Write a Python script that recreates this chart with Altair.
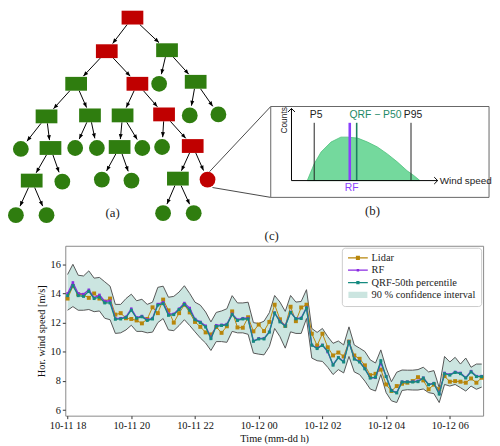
import math
import altair as alt
import pandas as pd

# ---------------- time series (panel c) ----------------
lidar = [13.65, 14.5, 13.95, 13.9, 13.7, 14.0, 13.65, 13.45, 13.65, 12.55,
         12.65, 12.3, 12.25, 12.15, 11.95, 12.25, 13.05, 12.65, 13.58, 12.84,
         12.0, 12.65, 13.22, 12.7, 12.05, 11.71, 11.33, 11.19, 11.7, 11.3,
         11.75, 12.77, 11.67, 11.65, 12.37, 11.4, 11.87, 11.42, 12.05, 13.23,
         12.23, 11.78, 13.09, 12.1, 13.04, 13.23, 11.24, 10.43, 11.24, 10.31,
         9.75, 9.95, 9.68, 10.7, 9.75, 9.52, 9.07, 8.4, 8.49, 8.78,
         7.76, 7.31, 7.65, 7.81, 7.88, 7.99, 8.26, 8.04, 7.43, 7.75,
         7.43, 8.33, 7.95, 7.99, 7.95, 7.88, 8.17, 7.88, 8.22]
rf = [14.0, 14.75, 14.0, 13.95, 14.25, 13.7, 13.9, 13.45, 13.5, 12.28,
      12.3, 12.4, 12.95, 12.35, 12.45, 12.2, 12.3, 13.27, 13.4, 12.6,
      12.6, 12.95, 13.34, 13.0, 12.25, 12.05, 11.78, 10.95, 11.82, 11.85,
      11.9, 12.6, 12.2, 12.3, 12.3, 10.74, 10.92, 10.92, 11.37, 12.68,
      12.1, 11.78, 12.73, 12.28, 12.32, 13.04, 10.47, 10.25, 10.47, 9.98,
      9.12, 9.61, 9.34, 10.7, 9.52, 9.34, 8.85, 8.21, 8.22, 9.23,
      8.33, 7.36, 7.2, 7.95, 7.95, 7.95, 8.0, 8.22, 7.76, 7.85,
      7.13, 8.55, 8.44, 8.62, 8.55, 8.22, 8.67, 8.33, 8.33]
qrf = [13.85, 14.55, 13.85, 13.8, 14.15, 13.65, 13.75, 13.35, 13.35, 12.23,
       12.25, 12.35, 12.85, 12.3, 12.4, 12.15, 12.25, 13.2, 13.3, 12.5,
       12.55, 12.9, 13.25, 12.85, 12.2, 12.0, 11.7, 10.9, 11.75, 11.8,
       11.85, 12.55, 12.15, 12.25, 12.25, 10.72, 10.88, 10.88, 11.35, 12.66,
       12.05, 11.75, 12.7, 12.26, 12.28, 13.0, 10.45, 10.22, 10.45, 10.05,
       9.08, 9.6, 9.3, 10.68, 9.5, 9.3, 8.83, 8.2, 8.26, 9.39,
       8.3, 7.33, 7.18, 7.93, 7.93, 7.93, 7.95, 8.2, 7.74, 7.83,
       7.1, 8.5, 8.4, 8.58, 8.5, 8.2, 8.62, 8.3, 8.3]
upper = [15.3, 16.0, 15.25, 15.2, 15.55, 15.05, 15.1, 14.8, 14.5, 13.25,
         13.25, 13.65, 13.95, 13.5, 13.6, 13.25, 13.4, 14.42, 14.5, 13.74,
         13.8, 14.1, 14.53, 14.0, 13.4, 13.2, 12.73, 12.05, 12.7, 12.8,
         12.95, 13.85, 13.35, 13.35, 13.4, 12.0, 11.94, 12.1, 12.68, 13.86,
         13.41, 12.77, 13.86, 13.41, 13.45, 14.26, 11.6, 11.33, 11.6, 11.04,
         10.58, 10.74, 10.47, 11.71, 10.47, 10.25, 10.02, 9.45, 9.23, 10.13,
         8.89, 7.95, 8.6, 8.75, 8.74, 8.74, 8.78, 8.94, 8.62, 8.71,
         7.54, 9.68, 9.3, 9.62, 9.16, 9.57, 8.94, 9.16, 9.16]
lower = [12.85, 13.1, 12.85, 12.85, 12.9, 12.75, 12.8, 12.3, 12.2, 11.26,
         11.3, 11.5, 11.82, 11.4, 11.4, 11.3, 11.35, 12.0, 12.28, 11.5,
         11.45, 11.8, 12.2, 11.8, 11.37, 10.95, 10.6, 10.09, 10.7, 10.7,
         10.65, 11.4, 11.3, 11.3, 11.2, 9.91, 9.84, 9.79, 10.36, 11.6,
         11.04, 10.25, 11.37, 11.26, 11.26, 12.28, 9.57, 9.39, 9.34, 8.94,
         8.44, 8.78, 8.55, 9.68, 8.62, 8.44, 7.99, 7.45, 7.31, 8.44,
         7.2, 6.64, 6.52, 7.35, 7.4, 7.38, 7.38, 7.45, 7.2, 7.13,
         6.52, 7.76, 7.65, 7.76, 7.54, 7.31, 7.65, 7.43, 7.58]
times = pd.date_range("2019-10-11 18:00", periods=len(lidar), freq="10min")

legend_labels = ["Lidar", "RF", "QRF-50th percentile", "90 % confidence interval"]
legend_colors = ["#b8860b", "#8a2be2", "#148a80", "#cbe5e0"]

# ---------------- tree diagram (panel a) ----------------
node_x = [132, 106, 167, 75, 137, 159, 196, 45, 89, 122, 164, 190, 219, 19, 49, 74, 96,
          119, 142, 162, 193, 30, 61, 101, 131, 178, 208, 14, 45, 163, 194]
node_y = [12, 46, 45, 79, 79, 79, 77, 112, 111, 111, 110, 111, 110, 145, 144, 144, 144,
          143, 144, 143, 142, 177, 178, 176, 177, 175, 176, 212, 212, 210, 210]
node_kind = ["rect", "rect", "rect", "rect", "rect", "circle", "rect", "rect", "rect",
             "rect", "rect", "circle", "circle", "circle", "rect", "circle", "circle",
             "rect", "circle", "circle", "rect", "rect", "circle", "circle", "circle",
             "rect", "circle", "circle", "circle", "circle", "circle"]
node_split = ["red", "red", "green", "green", "red", "green", "green", "green", "green",
              "green", "red", "green", "green", "green", "green", "green", "green",
              "green", "green", "green", "red", "green", "green", "green", "green",
              "green", "red", "green", "green", "green", "green"]
edge_from = [0, 0, 1, 1, 2, 2, 3, 3, 4, 4, 6, 6, 7, 7, 8, 8, 9, 9, 10, 10,
             14, 14, 17, 17, 20, 20, 21, 21, 25, 25]
edge_to = [1, 2, 3, 4, 5, 6, 7, 8, 9, 10, 11, 12, 13, 14, 15, 16, 17, 18, 19, 20,
           21, 22, 23, 24, 25, 26, 27, 28, 29, 30]

# ---------------- distribution sketch (panel b) ----------------
dist_x = [309, 316, 323, 333, 343, 350, 360, 370, 380, 390, 400, 410, 417, 423]
dist_y = [177, 160, 148, 138, 133, 133, 134, 138, 143, 150, 158, 167, 172, 177]
dist_base = 177
pct_line_x = [316, 414]       # P5, P95
rf_line_x = [352]
qrf_line_x = [359]
line_top = 118.5

RED, GREEN = "#c00000", "#2f7d0f"
HW, HH, R = 11, 7, 9

# ---- build tables ----
nodes = pd.DataFrame({"x": node_x, "y": node_y, "kind": node_kind, "split": node_split})
nodes["x1"], nodes["x2"] = nodes.x - HW, nodes.x + HW
nodes["y1"], nodes["y2"] = nodes.y - HH, nodes.y + HH

rows = []
for p, c in zip(edge_from, edge_to):
    px, py, cx, cy = node_x[p], node_y[p], node_x[c], node_y[c]
    dx, dy = cx - px, cy - py
    d = math.hypot(dx, dy)
    ts = min(HW / abs(dx) if dx else 9e9, HH / abs(dy))
    if node_kind[c] == "rect":
        te = min(HW / abs(dx) if dx else 9e9, HH / abs(dy))
    else:
        te = R / d
    ux, uy = dx / d, dy / d
    ex, ey = cx - te * dx - 1.0 * ux, cy - te * dy - 1.0 * uy
    ang = (math.degrees(math.atan2(dx, -dy)) + 360) % 360
    rows.append({"x1": px + ts * dx, "y1": py + ts * dy, "x2": ex, "y2": ey, "ang": ang})
edges = pd.DataFrame(rows)

xs = alt.Scale(domain=[64, 487], nice=False, zero=False)
ys = alt.Scale(domain=[5, 238], nice=False, zero=False, reverse=True)


def X(f):
    return alt.X(f"{f}:Q", scale=xs, axis=None)


def Y(f):
    return alt.Y(f"{f}:Q", scale=ys, axis=None)


conn = alt.Chart(pd.DataFrame({"x1": [210, 213], "y1": [168, 184],
                               "x2": [272, 272], "y2": [102, 194]})).mark_rule(
    color="#333", strokeWidth=0.9).encode(x=X("x1"), y=Y("y1"), x2="x2", y2="y2")

box = alt.Chart(pd.DataFrame({"x1": [272], "x2": [493], "y1": [102], "y2": [194]})).mark_rect(
    fill="white", stroke="#666", strokeWidth=1).encode(x=X("x1"), x2="x2", y=Y("y1"), y2="y2")

dist = alt.Chart(pd.DataFrame({"x": dist_x, "y": dist_y, "base": [dist_base] * len(dist_x)})).mark_area(
    color="#74d99d", stroke="#4dbf7b", strokeWidth=0.8, opacity=1).encode(
    x=X("x"), y=Y("y"), y2="base")


def vrule(xv, color, w):
    df = pd.DataFrame({"x": xv, "y1": [line_top] * len(xv), "y2": [dist_base] * len(xv)})
    return alt.Chart(df).mark_rule(color=color, strokeWidth=w).encode(x=X("x"), y=Y("y1"), y2="y2")


v_pct = vrule(pct_line_x, "#222", 1)
v_rf = vrule(rf_line_x, "#8a3ffc", 2.6)
v_qrf = vrule(qrf_line_x, "#1e7f5f", 1.6)

axes_b = alt.Chart(pd.DataFrame({"x1": [293, 293], "y1": [177, 177],
                                 "x2": [293, 441], "y2": [104, 177]})).mark_rule(
    color="black", strokeWidth=1).encode(x=X("x1"), y=Y("y1"), x2="x2", y2="y2")
chev = alt.Chart(pd.DataFrame({"x": [293, 441], "y": [104, 177], "ang": [0, 90]})).mark_point(
    shape="M-1,1L0,0L1,1", filled=False, color="black", strokeWidth=1, size=49, opacity=1).encode(
    x=X("x"), y=Y("y"), angle=alt.Angle("ang:Q", scale=None))

edge_lines = alt.Chart(edges).mark_rule(color="black", strokeWidth=1).encode(
    x=X("x1"), y=Y("y1"), x2="x2", y2="y2")
heads = alt.Chart(edges).mark_point(
    shape="M0,0L-1,2.5L1,2.5Z", filled=True, color="black", size=16, opacity=1).encode(
    x=X("x2"), y=Y("y2"), angle=alt.Angle("ang:Q", scale=None))


def rects(split, color):
    df = nodes[(nodes.kind == "rect") & (nodes.split == split)]
    return alt.Chart(df).mark_rect(color=color).encode(x=X("x1"), x2="x2", y=Y("y1"), y2="y2")


def circs(split, color):
    df = nodes[(nodes.kind == "circle") & (nodes.split == split)]
    return alt.Chart(df).mark_circle(size=255, opacity=1, color=color).encode(x=X("x"), y=Y("y"))


def label(xv, yv, t, color, size=10.5, font="Liberation Sans", align="center", angle=0):
    df = pd.DataFrame({"x": xv, "y": yv, "t": t})
    return alt.Chart(df).mark_text(font=font, fontSize=size, align=align, baseline="middle",
                                   color=color, angle=angle).encode(x=X("x"), y=Y("y"), text="t:N")


lab_p = label([318, 416], [111, 111], ["P5", "P95"], "#222")
lab_q = label([378], [111], ["QRF \u2212 P50"], "#1e8a68")
lab_r = label([354], [185], ["RF"], "#8a3ffc")
wind = label([443], [177], ["Wind speed"], "#222", size=10, align="left")
counts = label([285], [116], ["Counts"], "#222", size=8.5, angle=270)
panel_txt = label([112, 375, 273], [210, 208, 233], ["(a)", "(b)", "(c)"], "#222",
                  size=13, font="Liberation Serif")

top = alt.layer(conn, box, dist, v_pct, v_rf, v_qrf, axes_b, chev, edge_lines, heads,
                rects("red", RED), rects("green", GREEN), circs("red", RED), circs("green", GREEN),
                lab_p, lab_q, lab_r, wind, counts, panel_txt).properties(
    width=423, height=233, view=alt.ViewBackground(stroke=None))

# ---------------- bottom chart ----------------
ts_df = pd.DataFrame({"time": times, "lidar": lidar, "rf": rf, "qrf": qrf,
                      "upper": upper, "lower": lower})

tick_vals = [alt.DateTime(year=2019, month=10, date=11, hours=18),
             alt.DateTime(year=2019, month=10, date=11, hours=20),
             alt.DateTime(year=2019, month=10, date=11, hours=22),
             alt.DateTime(year=2019, month=10, date=12, hours=0),
             alt.DateTime(year=2019, month=10, date=12, hours=2),
             alt.DateTime(year=2019, month=10, date=12, hours=4),
             alt.DateTime(year=2019, month=10, date=12, hours=6)]
xscale = alt.Scale(domain=[alt.DateTime(year=2019, month=10, date=11, hours=17, minutes=55, seconds=40),
                           alt.DateTime(year=2019, month=10, date=12, hours=7, minutes=2, seconds=40)])
xaxis = alt.Axis(title="Time (mm-dd h)", format="%m-%d %H", values=tick_vals, grid=False,
                 domain=False, tickSize=3, labelPadding=2, titlePadding=3)
yscale = alt.Scale(domain=[5.62, 17.27], nice=False, zero=False)
yaxis = alt.Axis(title="Hor. wind speed [m/s]", values=[6, 8, 10, 12, 14, 16], grid=False,
                 domain=False, tickSize=3, labelPadding=2, titlePadding=4)

XT = alt.X("time:T", scale=xscale, axis=xaxis)


def YT(f):
    return alt.Y(f"{f}:Q", scale=yscale, axis=yaxis)


base = alt.Chart(ts_df)
band = base.mark_area(color="#cbe5e0", opacity=1).encode(x=XT, y=YT("lower"), y2="upper")
band_up = base.mark_line(color="#555", strokeWidth=1).encode(x=XT, y=YT("upper"))
band_lo = base.mark_line(color="#555", strokeWidth=1).encode(x=XT, y=YT("lower"))
l_line = base.mark_line(color=legend_colors[0], strokeWidth=1).encode(x=XT, y=YT("lidar"))
l_pts = base.mark_square(color=legend_colors[0], size=16, opacity=1).encode(x=XT, y=YT("lidar"))
r_line = base.mark_line(color=legend_colors[1], strokeWidth=1.3).encode(x=XT, y=YT("rf"))
r_pts = base.mark_square(color=legend_colors[1], size=7, opacity=1).encode(x=XT, y=YT("rf"))
q_line = base.mark_line(color=legend_colors[2], strokeWidth=1.3).encode(x=XT, y=YT("qrf"))
q_pts = base.mark_square(color=legend_colors[2], size=9, opacity=1).encode(x=XT, y=YT("qrf"))

# legend glyphs: sample line with marker, and a filled patch (drawn as stacked strokes)
ci_path = "".join(f"M-2.4,{v:.3f}H2.4" for v in [-0.625, -0.375, -0.125, 0.125, 0.375, 0.625])
paths = ["M-2.5,0H2.5M-0.35,-0.35H0.35V0.35H-0.35Z",
         "M-2.5,0H2.5M-0.15,-0.15H0.15V0.15H-0.15Z",
         "M-2.5,0H2.5M-0.25,-0.25H0.25V0.25H-0.25Z",
         ci_path]
leg = alt.Legend(title=None, orient="top-right", offset=2, fillColor="white",
                 strokeColor="#cccccc", cornerRadius=3, padding=5,
                 labelFont="Liberation Serif", labelFontSize=10.5, labelColor="#222",
                 symbolSize=64, symbolStrokeWidth=1.3, rowPadding=1.5,
                 symbolOffset=6, labelOffset=8.5)
legend_layer = alt.Chart(pd.DataFrame({"series": legend_labels})).transform_filter(
    "false").mark_point(filled=False, opacity=1, strokeWidth=1.3).encode(
    x=XT, y=YT("v"),
    color=alt.Color("series:N", scale=alt.Scale(domain=legend_labels, range=legend_colors), legend=leg),
    shape=alt.Shape("series:N", scale=alt.Scale(domain=legend_labels, range=paths), legend=leg))

bottom = alt.layer(band, band_up, band_lo, l_line, l_pts, r_line, r_pts, q_line, q_pts,
                   legend_layer).properties(
    width=423, height=172, view=alt.ViewBackground(stroke="#888", strokeWidth=1))

chart = alt.vconcat(top, bottom, spacing=5, bounds="flush").resolve_legend(
    color="independent", shape="independent").properties(padding=0).configure_view(
    stroke=None).configure_axis(
    labelFont="Liberation Serif", titleFont="Liberation Serif", labelFontSize=10.5,
    titleFontSize=10.5, titleFontWeight="normal", labelColor="#111", titleColor="#111",
    tickColor="#333")

chart.save("out.html", embed_options={"renderer": "svg", "actions": False})
